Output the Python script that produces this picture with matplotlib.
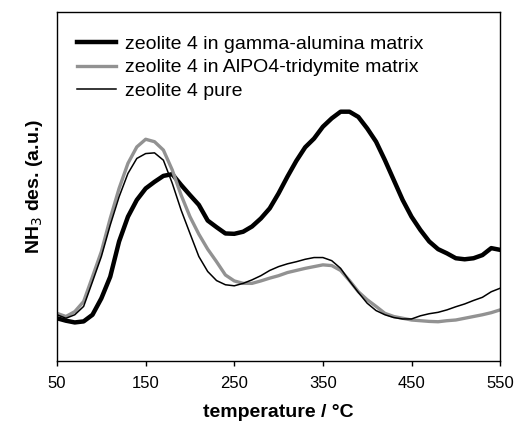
import numpy as np
import matplotlib
matplotlib.use('Agg')
import matplotlib.pyplot as plt

plt.rcParams['font.family'] = ['Liberation Sans', 'DejaVu Sans']

# temperature grid (°C) and NH3 desorption signal (a.u.)
temp = [50, 60, 70, 80, 90, 100, 110, 120, 130, 140, 150, 160, 170, 180, 190,
        200, 210, 220, 230, 240, 250, 260, 270, 280, 290, 300, 310, 320, 330,
        340, 350, 360, 370, 380, 390, 400, 410, 420, 430, 440, 450, 460, 470,
        480, 490, 500, 510, 520, 530, 540, 550]

gamma = [12.2, 11.5, 11.0, 11.3, 13.2, 17.9, 24.1, 34.2, 41.3, 46.1, 49.4,
         51.3, 53.0, 53.5, 50.4, 47.5, 44.7, 40.2, 38.3, 36.5, 36.4, 37.0,
         38.5, 40.8, 43.7, 48.0, 52.8, 57.3, 61.2, 63.7, 67.1, 69.5, 71.4,
         71.4, 69.9, 66.6, 62.8, 57.5, 51.8, 46.1, 41.3, 37.5, 34.2, 32.0,
         30.8, 29.4, 29.1, 29.4, 30.3, 32.3, 31.8]

alpo4 = [13.6, 12.7, 14.1, 17.0, 24.1, 31.3, 40.8, 49.4, 56.6, 61.3, 63.5,
         62.8, 60.4, 54.7, 47.5, 41.3, 36.3, 32.0, 28.4, 24.6, 22.9, 22.2,
         22.2, 22.9, 23.7, 24.4, 25.3, 25.9, 26.5, 27.0, 27.5, 27.3, 25.9,
         23.0, 19.8, 17.5, 15.6, 13.6, 12.7, 12.2, 11.7, 11.5, 11.3, 11.2,
         11.5, 11.7, 12.2, 12.7, 13.2, 13.8, 14.6]

pure = [13.2, 12.2, 13.2, 15.6, 22.7, 29.9, 38.9, 47.0, 53.7, 58.0, 59.4,
        59.6, 57.5, 50.9, 43.2, 36.5, 29.9, 25.6, 23.0, 21.8, 21.5, 22.2,
        23.2, 24.4, 25.9, 27.0, 27.8, 28.4, 29.1, 29.6, 29.6, 28.7, 26.5,
        22.9, 19.6, 16.5, 14.4, 13.2, 12.4, 12.0, 12.0, 12.9, 13.5, 13.9,
        14.6, 15.5, 16.3, 17.3, 18.2, 19.8, 20.8]

labels = ['zeolite 4 in gamma-alumina matrix',
          'zeolite 4 in AlPO4-tridymite matrix',
          'zeolite 4 pure']

fig = plt.figure(figsize=(5.14, 4.25), dpi=100)
ax = fig.add_axes([0.111, 0.151, 0.862, 0.821])

ax.plot(temp, gamma, color='black', lw=3.2, label=labels[0])
ax.plot(temp, alpo4, color='#929292', lw=2.4, label=labels[1])
ax.plot(temp, pure, color='black', lw=1.1, label=labels[2])

ax.set_xlim(50, 550)
ax.set_ylim(0, 100)
ax.set_xticks([50, 150, 250, 350, 450, 550])
ax.set_yticks([])
ax.tick_params(axis='x', direction='out', length=3.5, width=1, labelsize=12, pad=7.5)
for s in ax.spines.values():
    s.set_linewidth(1)

ax.set_xlabel('temperature / °C', fontsize=14, fontweight='bold', labelpad=9)
ax.set_ylabel('NH$_3$ des. (a.u.)', fontsize=14, fontweight='bold', labelpad=9)

ax.legend(loc='upper left', frameon=False, fontsize=14, handlelength=2.0,
          handletextpad=0.5, labelspacing=0.3, borderaxespad=0,
          bbox_to_anchor=(0.027, 0.955))

fig.savefig('out.png', dpi=100)
